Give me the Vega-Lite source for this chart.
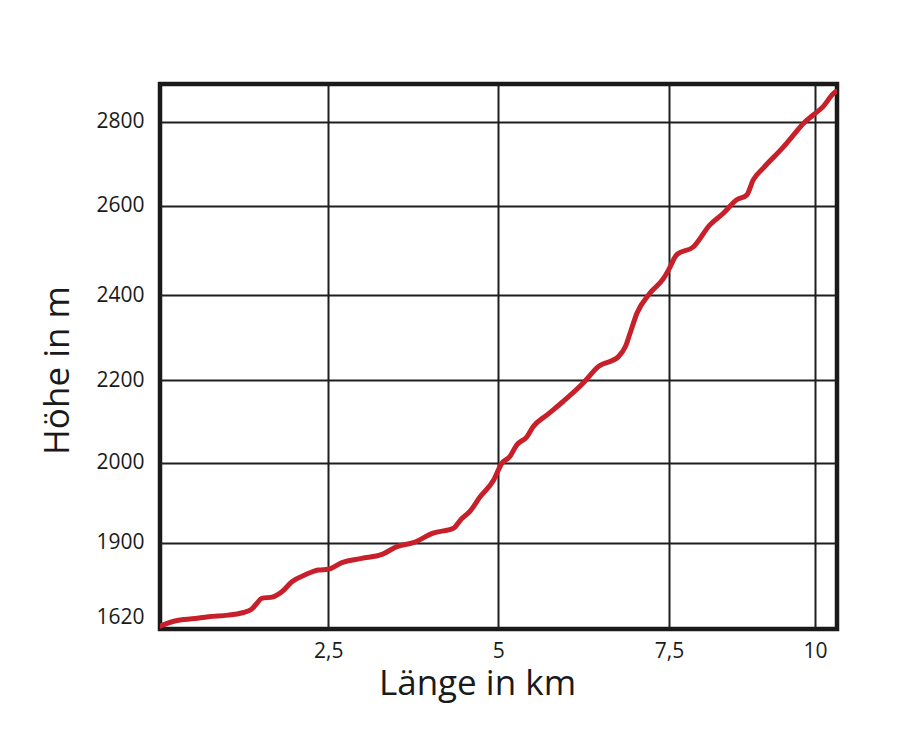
{
  "$schema": "https://vega.github.io/schema/vega-lite/v6.json",
  "autosize": "none",
  "padding": {"left": 160, "top": 84, "right": 63, "bottom": 121},
  "width": 677,
  "height": 545,
  "background": "white",
  "config": {
    "view": {"stroke": "#1a1a1a", "strokeWidth": 4.5},
    "font": "Open Sans"
  },
  "data": {
    "values": [
      {"km": 0, "hoehe": 1586},
      {"km": 0.22, "hoehe": 1605},
      {"km": 0.52, "hoehe": 1614},
      {"km": 0.72, "hoehe": 1621},
      {"km": 1.01, "hoehe": 1627},
      {"km": 1.21, "hoehe": 1635},
      {"km": 1.36, "hoehe": 1649},
      {"km": 1.44, "hoehe": 1672},
      {"km": 1.51, "hoehe": 1690},
      {"km": 1.68, "hoehe": 1696},
      {"km": 1.81, "hoehe": 1715},
      {"km": 1.96, "hoehe": 1753},
      {"km": 2.15, "hoehe": 1778},
      {"km": 2.35, "hoehe": 1797},
      {"km": 2.5, "hoehe": 1800},
      {"km": 2.7, "hoehe": 1825},
      {"km": 2.99, "hoehe": 1841},
      {"km": 3.29, "hoehe": 1856},
      {"km": 3.51, "hoehe": 1885},
      {"km": 3.75, "hoehe": 1900},
      {"km": 4.04, "hoehe": 1912},
      {"km": 4.34, "hoehe": 1918},
      {"km": 4.46, "hoehe": 1930},
      {"km": 4.58, "hoehe": 1939},
      {"km": 4.73, "hoehe": 1957},
      {"km": 4.93, "hoehe": 1978},
      {"km": 5.05, "hoehe": 1999},
      {"km": 5.17, "hoehe": 2015},
      {"km": 5.27, "hoehe": 2043},
      {"km": 5.42, "hoehe": 2063},
      {"km": 5.51, "hoehe": 2087},
      {"km": 5.71, "hoehe": 2115},
      {"km": 5.95, "hoehe": 2148},
      {"km": 6.24, "hoehe": 2192},
      {"km": 6.46, "hoehe": 2231},
      {"km": 6.76, "hoehe": 2255},
      {"km": 6.86, "hoehe": 2278},
      {"km": 6.93, "hoehe": 2310},
      {"km": 7.03, "hoehe": 2357},
      {"km": 7.22, "hoehe": 2404},
      {"km": 7.42, "hoehe": 2437},
      {"km": 7.5, "hoehe": 2458},
      {"km": 7.63, "hoehe": 2490},
      {"km": 7.92, "hoehe": 2508},
      {"km": 8.2, "hoehe": 2557},
      {"km": 8.43, "hoehe": 2583},
      {"km": 8.66, "hoehe": 2614},
      {"km": 8.83, "hoehe": 2625},
      {"km": 8.94, "hoehe": 2661},
      {"km": 9.11, "hoehe": 2689},
      {"km": 9.46, "hoehe": 2740},
      {"km": 9.63, "hoehe": 2768},
      {"km": 9.8, "hoehe": 2796},
      {"km": 9.97, "hoehe": 2816},
      {"km": 10.14, "hoehe": 2836},
      {"km": 10.31, "hoehe": 2866},
      {"km": 10.36, "hoehe": 2872}
    ]
  },
  "mark": {"type": "line", "color": "#c8202a", "strokeWidth": 5, "interpolate": "monotone", "clip": true, "strokeCap": "round"},
  "encoding": {
    "x": {
      "field": "km",
      "type": "quantitative",
      "scale": {"domain": [0, 2.5, 5, 7.5, 10, 10.38], "range": [0, 168.3, 338.3, 509, 655, 677], "nice": false, "zero": false},
      "axis": {
        "values": [2.5, 5, 7.5, 10],
        "labelExpr": "replace(toString(datum.value), '.', ',')",
        "domain": false,
        "ticks": false,
        "labelFlush": false,
        "labelPadding": 11,
        "labelFontSize": 21,
        "labelColor": "#1a1a1a",
        "grid": true,
        "gridColor": "#1f1f1f",
        "gridWidth": 2,
        "gridOpacity": 1,
        "title": "Länge in km",
        "titleFontSize": 35,
        "titleFontWeight": "normal",
        "titleColor": "#1a1a1a",
        "titleX": 317,
        "titleY": 65,
        "titleAlign": "center",
        "titleBaseline": "alphabetic"
      }
    },
    "y": {
      "field": "hoehe",
      "type": "quantitative",
      "scale": {"domain": [1575, 1620, 1900, 2000, 2200, 2400, 2600, 2800, 2890], "range": [545, 533, 458.7, 378.7, 296, 211, 121.7, 37.7, 0], "nice": false, "zero": false},
      "axis": {
        "values": [1620, 1900, 2000, 2200, 2400, 2600, 2800],
        "format": "d",
        "domain": false,
        "ticks": false,
        "labelFlush": false,
        "labelPadding": 16,
        "labelFontSize": 21,
        "labelColor": "#1a1a1a",
        "grid": true,
        "gridColor": "#1f1f1f",
        "gridWidth": 2,
        "gridOpacity": {"condition": {"test": "datum.value == 1620", "value": 0}, "value": 1},
        "title": "Höhe in m",
        "titleFontSize": 35,
        "titleFontWeight": "normal",
        "titleColor": "#1a1a1a",
        "titleAngle": 270,
        "titleX": -92,
        "titleY": 286,
        "titleAlign": "center",
        "titleBaseline": "alphabetic"
      }
    }
  }
}
